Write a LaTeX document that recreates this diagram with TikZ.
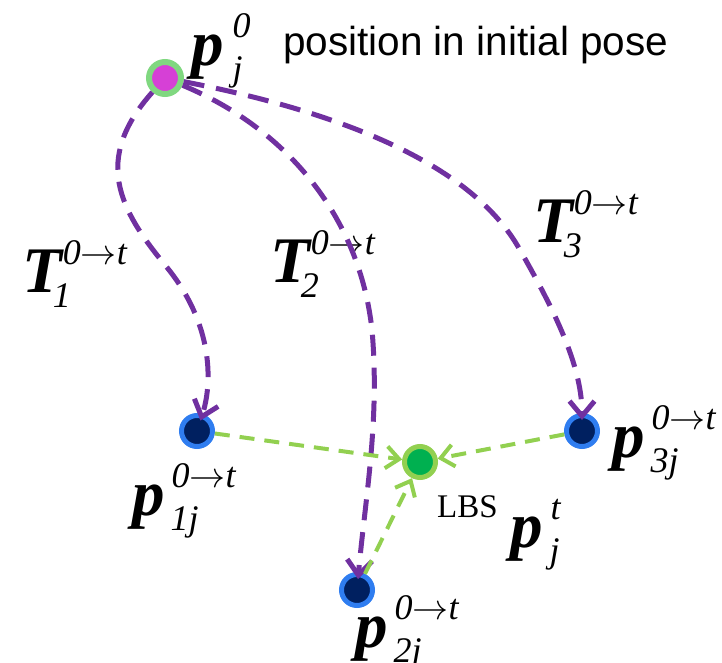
\RequirePackage{fix-cm}
\documentclass[tikz,border=0pt]{standalone}
\usepackage{fontspec}
\setmainfont{Liberation Serif}
\newfontfamily\possans{Liberation Sans}
\usetikzlibrary{arrows.meta}
\definecolor{purp}{RGB}{112,48,160}
\definecolor{lgreen}{RGB}{146,208,80}
\definecolor{ringblue}{RGB}{47,125,240}
\definecolor{navy}{RGB}{0,32,96}
\definecolor{pgreen}{RGB}{128,216,128}
\definecolor{magen}{RGB}{214,64,214}
\definecolor{lbsfill}{RGB}{0,176,80}
\newcommand\bigbi{\fontsize{65}{65}\selectfont\bfseries\itshape}
\newcommand\smit{\fontsize{36}{36}\selectfont\itshape}
\newcommand\ar{\ensuremath{\rightarrow}}
\newcommand\lbl[5]{{\bigbi #1}\rlap{\kern#4\raisebox{28pt}{\smit #2}}\kern#5\raisebox{-15pt}{\smit #3}}
\begin{document}
\begin{tikzpicture}[x=1pt,y=-1pt,
  startpt/.style={circle, inner sep=0pt, minimum size=32pt, draw=pgreen, fill=magen, line width=6pt},
  posept/.style={circle, inner sep=0pt, minimum size=31pt, draw=ringblue, fill=navy, line width=5pt},
  lbspt/.style={circle, inner sep=0pt, minimum size=31pt, draw=lgreen, fill=lbsfill, line width=5pt},
  trans/.style={draw=purp, line width=5pt, dash pattern=on 21pt off 12pt, -{Straight Barb[length=15pt,width=25pt]}, shorten >=11pt},
  blend/.style={draw=lgreen, line width=4pt, dash pattern=on 15pt off 10pt, -{Straight Barb[length=13pt,width=22pt]}},
  lab/.style={anchor=base west, inner sep=0pt}]
\useasboundingbox (0,0) rectangle (722,663);
% points
\node[startpt] (p0) at (165,78) {};
\node[posept] (p1) at (197,431) {};
\node[posept] (p2) at (357,590) {};
\node[posept] (p3) at (582,431) {};
\node[lbspt] (lbs) at (420,462) {};
% labels
\node[lab] (lp0) at (191,66) {\lbl{p}{0}{j}{9pt}{9pt}};
\node[lab, font=\possans\fontsize{40.5}{40.5}\selectfont] (ptext) at (283,56) {position in initial pose};
\node[lab] (lT1) at (22,292) {\lbl{T}{0\ar t}{1}{1pt}{-9pt}};
\node[lab] (lT2) at (270,282) {\lbl{T}{0\ar t}{2}{1pt}{-9pt}};
\node[lab] (lT3) at (533,242) {\lbl{T}{0\ar t}{3}{1pt}{-9pt}};
\node[lab] (lp1) at (132,515) {\lbl{p}{0\ar t}{1j}{7pt}{6pt}};
\node[lab] (lp2) at (355,647) {\lbl{p}{0\ar t}{2j}{7pt}{6pt}};
\node[lab] (lp3) at (612,457) {\lbl{p}{0\ar t}{3j}{7pt}{6pt}};
\node[lab] (lpt) at (510,547) {\lbl{p}{t}{j}{8pt}{7pt}};
\node[lab, font=\fontsize{33}{33}\selectfont] (lbstext) at (437,517) {LBS};
% transformations
\draw[trans] (p0) .. controls (92,160) and (120,210) .. (165,265)
                  .. controls (215,325) and (212,385) .. (p1.center);
\draw[trans] (p0) .. controls (290,130) and (360,220) .. (372,330)
                  .. controls (380,420) and (365,500) .. (p2.center);
\draw[trans] (p0) .. controls (330,110) and (470,160) .. (520,250)
                  .. controls (560,320) and (582,370) .. (p3.center);
% blending
\draw[blend] (p1) -- (lbs);
\draw[blend] (p3) -- (lbs);
\draw[blend] (p2) -- (lbs);
\end{tikzpicture}
\end{document}
